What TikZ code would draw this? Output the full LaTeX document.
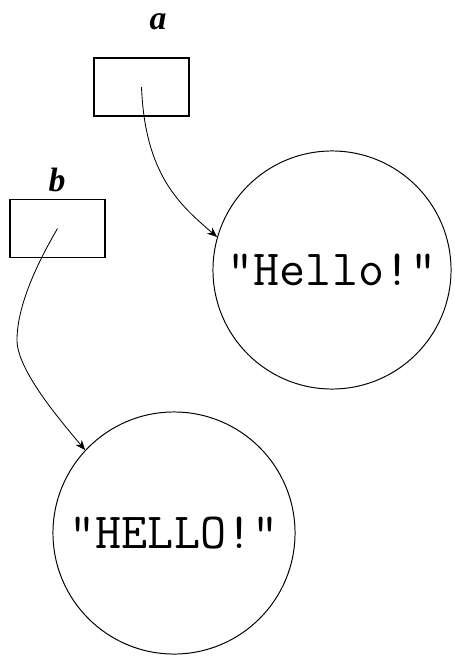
\documentclass[tikz,border=0pt]{standalone}
\usepackage{fontspec}
\setmainfont{Liberation Serif}
\usetikzlibrary{arrows.meta, positioning}

\begin{document}
\begin{tikzpicture}[x=0.025cm, y=-0.025cm,
  cell/.style={draw, line width=0.8pt, minimum width=2.375cm, minimum height=1.45cm, inner sep=0pt},
  strobj/.style={draw, circle, line width=0.7pt, inner sep=0pt, font=\ttfamily\fontsize{36}{36}\selectfont},
  varname/.style={font=\bfseries\itshape\fontsize{24}{24}\selectfont},
  ref/.style={-{Stealth[length=2.5mm, width=2mm]}, line width=0.6pt}]
\useasboundingbox (0,0) rectangle (454,656);

% variables
\node[cell] (boxa) at (141.5,87) {};
\node[cell] (boxb) at (57.5,228.5) {};
\node[varname] (namea) at (158,22) {a};
\node[varname] (nameb) at (57,180) {b};

% string objects
\node[strobj, minimum size=5.95cm] (hello) at (332,270) {"Hello!"};
\node[strobj, minimum size=6.05cm] (upper) at (174,533) {"HELLO!"};

% references
\draw[ref] (boxa.center) .. controls (145,175) and (180,205) .. (hello.164);
\draw[ref] (boxb.center) .. controls (45,250) and (17,300) .. (17,340)
  .. controls (17,370) and (60,420) .. (upper.137);
\end{tikzpicture}
\end{document}
